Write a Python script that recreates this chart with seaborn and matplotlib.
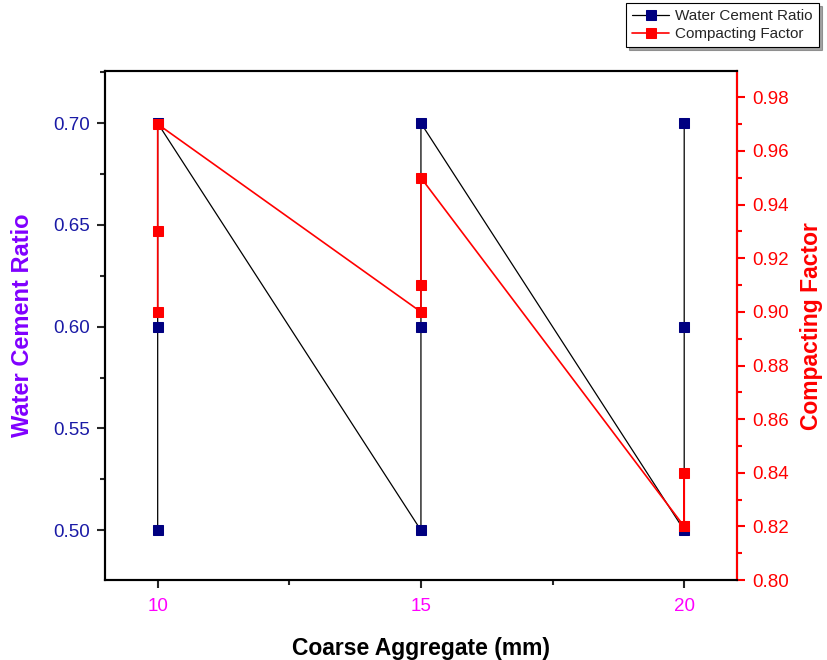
import numpy as np
import pandas as pd
import matplotlib
matplotlib.use("Agg")
import matplotlib.pyplot as plt
import seaborn as sns
from matplotlib.ticker import MultipleLocator

# data
coarse_aggregate = [10, 10, 10, 15, 15, 15, 20, 20, 20]
water_cement = [0.50, 0.60, 0.70, 0.50, 0.60, 0.70, 0.50, 0.60, 0.70]
compacting = [0.90, 0.93, 0.97, 0.90, 0.91, 0.95, 0.82, 0.84, 0.82]

df = pd.DataFrame({
    "Coarse Aggregate (mm)": coarse_aggregate,
    "Water Cement Ratio": water_cement,
    "Compacting Factor": compacting,
})

sns.set_style("ticks")
plt.rcParams['font.family'] = ['Liberation Sans', 'DejaVu Sans']

fig = plt.figure(figsize=(8.27, 6.6), dpi=100)
ax = fig.add_axes([0.127, 0.121, 0.764, 0.771])
ax2 = ax.twinx()

sns.lineplot(data=df, x="Coarse Aggregate (mm)", y="Water Cement Ratio",
             estimator=None, sort=False, ax=ax, color="black", lw=0.9,
             marker="s", markersize=7.5, markerfacecolor="#000080",
             markeredgecolor="#000080", label="Water Cement Ratio", legend=False)
sns.lineplot(data=df, x="Coarse Aggregate (mm)", y="Compacting Factor",
             estimator=None, sort=False, ax=ax2, color="red", lw=1.2,
             marker="s", markersize=7.5, markerfacecolor="red",
             markeredgecolor="red", label="Compacting Factor", legend=False)

ax.set_xlim(9, 21)
ax.set_ylim(0.4755, 0.7255)
ax2.set_ylim(0.80, 0.9897)

ax.set_xticks([10, 15, 20])
ax.xaxis.set_minor_locator(MultipleLocator(2.5))
ax.yaxis.set_major_locator(MultipleLocator(0.05))
ax.yaxis.set_minor_locator(MultipleLocator(0.025))
ax.yaxis.set_major_formatter(matplotlib.ticker.FormatStrFormatter('%.2f'))
ax2.yaxis.set_major_locator(MultipleLocator(0.02))
ax2.yaxis.set_minor_locator(MultipleLocator(0.01))
ax2.yaxis.set_major_formatter(matplotlib.ticker.FormatStrFormatter('%.2f'))

for a in (ax, ax2):
    for s in a.spines.values():
        s.set_linewidth(1.5)
        s.set_color("black")
ax2.spines['right'].set_color("red")

ax.tick_params(axis='both', which='major', length=6, width=1.5, labelsize=13.5, direction='out')
ax.tick_params(axis='both', which='minor', length=3.5, width=1.5, direction='out')
ax.tick_params(axis='x', labelcolor="#FF00FF", pad=7)
ax.tick_params(axis='y', labelcolor="#1A1AA6", pad=5)
ax2.tick_params(axis='y', which='major', length=6, width=1.5, labelsize=13.5,
                color="red", labelcolor="red", direction='out', pad=5)
ax2.tick_params(axis='y', which='minor', length=3.5, width=1.5, color="red", direction='out')

ax.set_xlabel("Coarse Aggregate (mm)", fontsize=16.5, fontweight='bold', color="black", labelpad=16)
ax.set_ylabel("Water Cement Ratio", fontsize=17, fontweight='bold', color="#8000FF", labelpad=14)
ax2.set_ylabel("Compacting Factor", fontsize=16.5, fontweight='bold', color="red", labelpad=8)

h1, l1 = ax.get_legend_handles_labels()
h2, l2 = ax2.get_legend_handles_labels()
leg = fig.legend(h1 + h2, l1 + l2, loc='upper right', bbox_to_anchor=(0.99, 0.995),
                 fontsize=11, frameon=True, fancybox=False, shadow=True,
                 edgecolor="black", borderpad=0.4, handlelength=2.4,
                 labelspacing=0.25, borderaxespad=0, handletextpad=0.4)
leg.get_frame().set_linewidth(0.8)

fig.savefig("out.png", dpi=100)
